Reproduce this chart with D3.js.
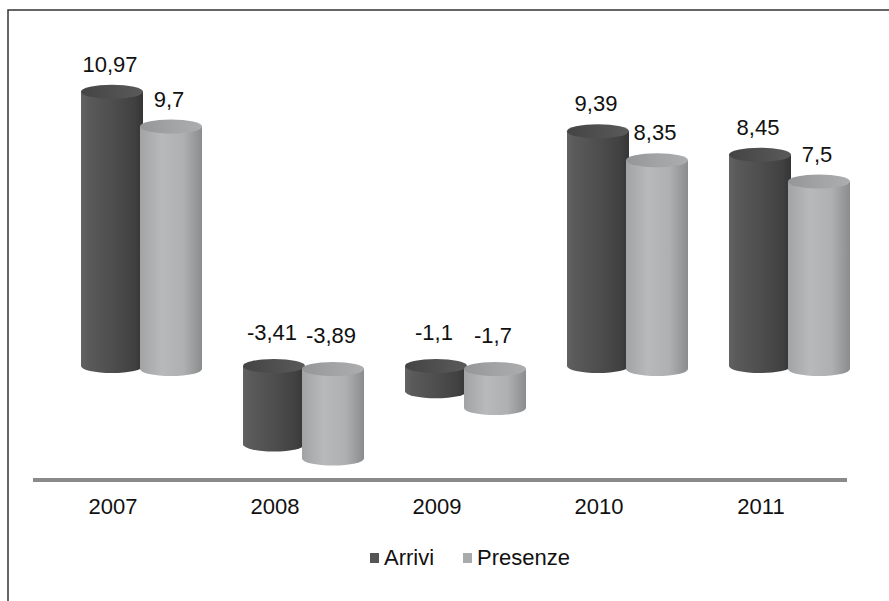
<!DOCTYPE html>
<html lang="it">
<head>
<meta charset="UTF-8">
<title>Arrivi e presenze</title>
<script src="https://cdn.jsdelivr.net/npm/d3@7"></script>
<style>
    body{ margin:0; background:#fff; }
    svg{ display:block; }
    text{ font-family:"Liberation Sans", Arial, sans-serif; fill:#111; }
    .lbl{ font-size:22px; }
</style>
</head>
<body>
<svg id="main" width="889" height="601"></svg>
<script>
    // data
    const years = ["2007", "2008", "2009", "2010", "2011"];
    const seriesNames = ["Arrivi", "Presenze"];
    const arrivi = [10.97, -3.41, -1.1, 9.39, 8.45];
    const presenze = [9.7, -3.89, -1.7, 8.35, 7.5];

    const W = 889, H = 601;
    const svg = d3.select("#main");

    const it = d3.formatLocale({decimal: ",", thousands: ".", grouping: [3], currency: ["", "€"], minus: "-"});
    const fmt = it.format("");

    const x0 = d3.scaleBand().domain(years).range([60, 870]);
    const x1 = d3.scalePoint().domain(seriesNames).range([52, 111]);
    // perspective squeezes the part under the floor a bit
    const y = d3.scaleLinear().domain([-4, 0, 11]).range([458, 366, 91]);

    // depth shift: the second row sits a little lower (closer to viewer)
    const depth = {Arrivi: 0, Presenze: 3};
    const rx = 31, ry = 7;

    // frame
    svg.append("path")
        .attr("d", `M8,${H} V10 H${W}`)
        .attr("fill", "none")
        .attr("stroke", "#333")
        .attr("stroke-width", 1.5);

    // gradients
    const defs = svg.append("defs");
    function grad(id, stops) {
        const g = defs.append("linearGradient").attr("id", id)
            .attr("x1", "0%").attr("x2", "100%").attr("y1", "0%").attr("y2", "0%");
        stops.forEach(s => g.append("stop").attr("offset", s[0]).attr("stop-color", s[1]));
    }
    grad("bodyA", [["0%", "#626262"], ["12%", "#5a5a5a"], ["50%", "#4e4e4e"], ["85%", "#414141"], ["100%", "#353535"]]);
    grad("bodyP", [["0%", "#a2a3a5"], ["35%", "#b7b9bb"], ["70%", "#aeb0b2"], ["100%", "#8b8c8e"]]);
    grad("topA", [["0%", "#444"], ["50%", "#4f4f4f"], ["100%", "#5a5a5a"]]);
    grad("topP", [["0%", "#959698"], ["50%", "#a2a3a5"], ["100%", "#acadaf"]]);
    const fills = {Arrivi: ["url(#bodyA)", "url(#topA)"], Presenze: ["url(#bodyP)", "url(#topP)"]};

    const rows = years.map((yr, i) => ({year: yr, values: [
        {key: "Arrivi", value: arrivi[i]},
        {key: "Presenze", value: presenze[i]}
    ]}));

    // axis line
    svg.append("line")
        .attr("x1", 33).attr("x2", 847)
        .attr("y1", 480).attr("y2", 480)
        .attr("stroke", "#8a8a8a")
        .attr("stroke-width", 4);

    const groups = svg.selectAll("g.year")
        .data(rows)
        .enter()
        .append("g")
        .attr("class", "year")
        .attr("transform", d => `translate(${x0(d.year)},0)`);

    const bars = groups.selectAll("g.bar")
        .data(d => d.values)
        .enter()
        .append("g")
        .attr("class", "bar");

    function topY(d) { return Math.min(y(d.value), y(0)) + depth[d.key]; }
    function botY(d) { return Math.max(y(d.value), y(0)) + depth[d.key]; }

    bars.append("path")
        .attr("d", d => {
            const cx = x1(d.key), l = cx - rx, r = cx + rx;
            return `M${l},${topY(d)} V${botY(d)} A${rx},${ry} 0 0 0 ${r},${botY(d)} V${topY(d)} Z`;
        })
        .attr("fill", d => fills[d.key][0]);

    bars.append("ellipse")
        .attr("cx", d => x1(d.key))
        .attr("cy", d => topY(d))
        .attr("rx", rx).attr("ry", ry)
        .attr("fill", d => fills[d.key][1]);

    bars.append("text")
        .attr("class", "lbl")
        .attr("x", d => x1(d.key) - 2)
        .attr("y", d => topY(d) - (d.value < 0 ? 26 : 20))
        .attr("text-anchor", "middle")
        .text(d => fmt(d.value));

    // category labels
    groups.append("text")
        .attr("class", "lbl")
        .attr("x", x1("Arrivi") + 1)
        .attr("y", 514)
        .attr("text-anchor", "middle")
        .text(d => d.year);

    // legend
    const legColors = {Arrivi: "#555", Presenze: "#a9aaac"};
    const legX = {Arrivi: 370, Presenze: 463};
    const leg = svg.selectAll("g.leg")
        .data(seriesNames)
        .enter()
        .append("g")
        .attr("class", "leg")
        .attr("transform", d => `translate(${legX[d]},553)`);
    leg.append("rect")
        .attr("width", 9).attr("height", 10)
        .attr("fill", d => legColors[d]);
    leg.append("text")
        .attr("class", "lbl")
        .attr("x", 14).attr("y", 12)
        .text(d => d);
</script>
</body>
</html>
